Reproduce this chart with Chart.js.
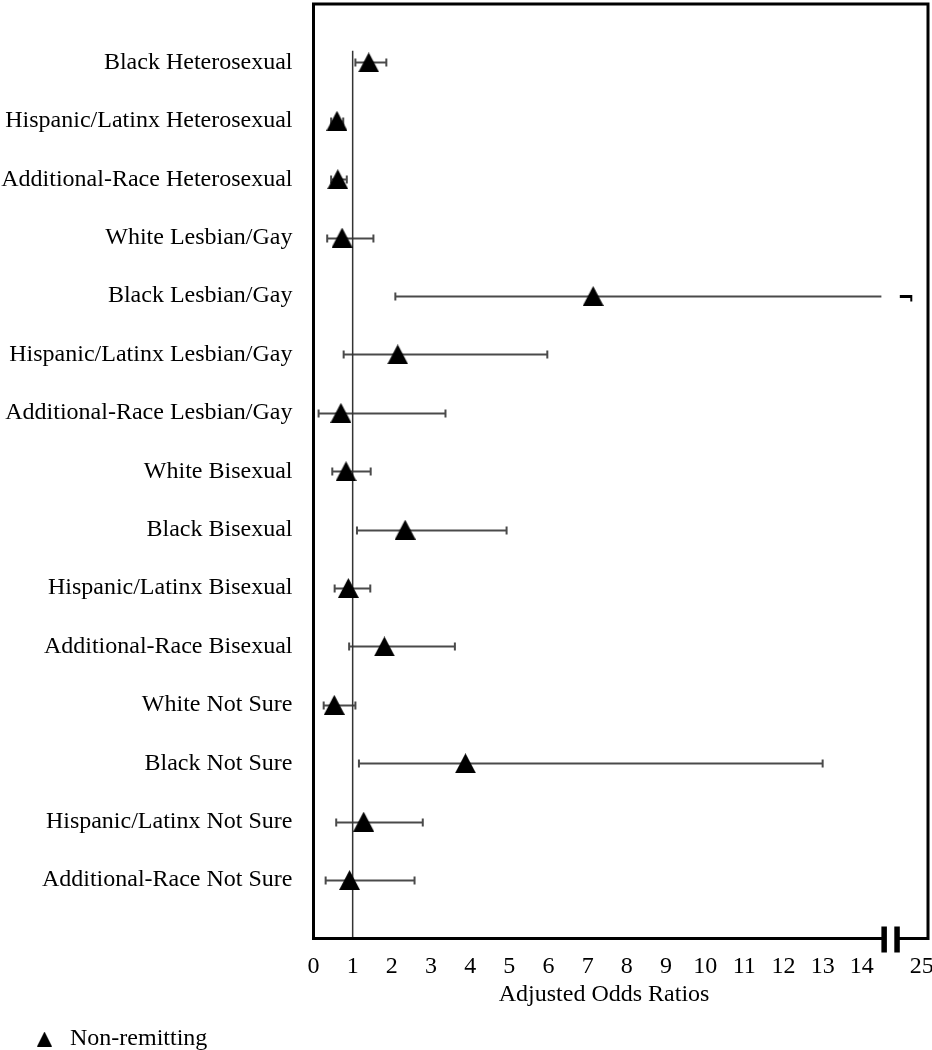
<!DOCTYPE html>
<html>
<head>
<meta charset="utf-8">
<script src="https://cdn.jsdelivr.net/npm/chart.js@4.4.1/dist/chart.umd.min.js"></script>
<style>
html,body{margin:0;padding:0;background:#fff;overflow:hidden;}
#wrap{width:932px;height:1050px;position:relative;}
</style>
</head>
<body>
<div id="wrap"><canvas id="c" width="932" height="1050"></canvas></div>
<script>
// ---------------- data ----------------
const categories = [
  'Black Heterosexual',
  'Hispanic/Latinx Heterosexual',
  'Additional-Race Heterosexual',
  'White Lesbian/Gay',
  'Black Lesbian/Gay',
  'Hispanic/Latinx Lesbian/Gay',
  'Additional-Race Lesbian/Gay',
  'White Bisexual',
  'Black Bisexual',
  'Hispanic/Latinx Bisexual',
  'Additional-Race Bisexual',
  'White Not Sure',
  'Black Not Sure',
  'Hispanic/Latinx Not Sure',
  'Additional-Race Not Sure'
];
const oddsRatios = [1.41, 0.60, 0.62, 0.73, 7.14, 2.15, 0.70, 0.83, 2.34, 0.89, 1.81, 0.53, 3.88, 1.28, 0.92];
const ciLower    = [1.07, 0.45, 0.45, 0.35, 2.09, 0.77, 0.13, 0.48, 1.11, 0.54, 0.91, 0.26, 1.16, 0.58, 0.31];
const ciUpper    = [1.86, 0.76, 0.85, 1.53, 20.0, 5.97, 3.37, 1.46, 4.93, 1.45, 3.61, 1.07, 13.0, 2.79, 2.58];
const xTickValues = [0, 1, 2, 3, 4, 5, 6, 7, 8, 9, 10, 11, 12, 13, 14, 25];
const seriesName = 'Non-remitting';
const xAxisTitle = 'Adjusted Odds Ratios';
const referenceValue = 1;

// ---------------- axis break mapping ----------------
const BREAK_FROM = 14.5;     // data value where the axis is broken
const BREAK_RESUME = 14.97;  // axis position where the scale resumes
const TOP_POS = 15.53;       // axis position of the last tick
const TOP_VAL = 25;          // value of the last tick
function toPos(v) {
  if (v <= BREAK_FROM) return v;
  return BREAK_RESUME + (v - BREAK_FROM) * (TOP_POS - BREAK_RESUME) / (TOP_VAL - BREAK_FROM);
}
const N = categories.length;
function rowY(i) { return N - i; }

const FONT = "'Liberation Serif','Times New Roman',serif";
Chart.defaults.font.family = FONT;
Chart.defaults.font.size = 24;
Chart.defaults.color = '#000';

function makeTriangle(w, h) {
  const c = document.createElement('canvas');
  c.width = w; c.height = h;
  const g = c.getContext('2d');
  g.fillStyle = '#000';
  g.beginPath();
  g.moveTo(w / 2, 0);
  g.lineTo(w, h);
  g.lineTo(0, h);
  g.closePath();
  g.fill();
  return c;
}
const triBig = makeTriangle(21, 20);
const triSmall = makeTriangle(15, 15);

const whiskerPlugin = {
  id: 'whiskers',
  beforeDatasetsDraw(chart) {
    const { ctx, scales: { x, y } } = chart;
    ctx.save();
    ctx.lineCap = 'butt';
    const cap = 4;
    categories.forEach((c, i) => {
      const py = Math.round(y.getPixelForValue(rowY(i))) + 0.5;
      const xl = x.getPixelForValue(toPos(ciLower[i]));
      ctx.strokeStyle = '#4a4a4a';
      ctx.lineWidth = 2;
      if (ciUpper[i] > BREAK_FROM) {
        const xb = x.getPixelForValue(BREAK_FROM);
        const xr = x.getPixelForValue(BREAK_RESUME);
        const xu = x.getPixelForValue(toPos(ciUpper[i]));
        ctx.beginPath();
        ctx.moveTo(xl, py); ctx.lineTo(xb, py);
        ctx.moveTo(xl, py - cap); ctx.lineTo(xl, py + cap);
        ctx.stroke();
        ctx.strokeStyle = '#000';
        ctx.lineWidth = 3;
        ctx.beginPath();
        ctx.moveTo(xr, py); ctx.lineTo(xu, py);
        ctx.stroke();
        ctx.lineWidth = 2;
        ctx.beginPath();
        ctx.moveTo(xu, py - 1.5); ctx.lineTo(xu, py + 5);
        ctx.stroke();
      } else {
        const xu = x.getPixelForValue(toPos(ciUpper[i]));
        ctx.beginPath();
        ctx.moveTo(xl, py); ctx.lineTo(xu, py);
        ctx.moveTo(xl, py - cap); ctx.lineTo(xl, py + cap);
        ctx.moveTo(xu, py - cap); ctx.lineTo(xu, py + cap);
        ctx.stroke();
      }
    });
    ctx.restore();
  }
};

const framePlugin = {
  id: 'frame',
  afterLayout(chart) {
    const lg = chart.legend;
    if (lg) {
      lg.left += 29; lg.right += 29;
      lg.top += 11; lg.bottom += 11;
    }
  },
  afterDatasetsDraw(chart) {
    const { ctx, chartArea: { left, right, top, bottom }, scales: { x } } = chart;
    ctx.save();
    ctx.strokeStyle = '#000';
    ctx.fillStyle = '#000';
    ctx.lineWidth = 3;
    ctx.lineCap = 'square';
    const xb1 = x.getPixelForValue(BREAK_FROM);
    const xb2 = x.getPixelForValue(BREAK_RESUME);
    ctx.beginPath();
    ctx.moveTo(left, bottom); ctx.lineTo(left, top); ctx.lineTo(right, top); ctx.lineTo(right, bottom);
    ctx.moveTo(left, bottom); ctx.lineTo(xb1, bottom);
    ctx.moveTo(xb2, bottom); ctx.lineTo(right, bottom);
    ctx.stroke();
    ctx.fillRect(xb1, bottom - 12, 5.5, 26);
    ctx.fillRect(xb2 - 5.5, bottom - 12, 5.5, 26);
    ctx.restore();
  },
  afterDraw(chart) {
    const { ctx, chartArea, scales: { x } } = chart;
    ctx.save();
    ctx.fillStyle = '#000';
    ctx.font = '24px ' + FONT;
    ctx.textAlign = 'center';
    ctx.textBaseline = 'middle';
    ctx.fillText(xAxisTitle, x.getPixelForValue(7.42), chartArea.bottom + 56.5);
    ctx.restore();
  }
};

new Chart(document.getElementById('c'), {
  type: 'scatter',
  data: {
    datasets: [
      {
        label: seriesName,
        data: oddsRatios.map((v, i) => ({ x: toPos(v), y: rowY(i) })),
        pointStyle: triBig,
        pointRadius: 10,
        backgroundColor: '#000',
        borderColor: '#000',
        order: 0
      },
      {
        label: 'reference',
        data: [{ x: toPos(referenceValue), y: 0 }, { x: toPos(referenceValue), y: 15.2 }],
        showLine: true,
        pointRadius: 0,
        borderColor: '#333',
        borderWidth: 1.5,
        order: 1
      }
    ]
  },
  options: {
    responsive: false,
    animation: false,
    events: [],
    layout: { autoPadding: false, padding: { left: 0, right: 4, top: 4, bottom: 0 } },
    scales: {
      x: {
        type: 'linear',
        min: 0,
        max: 15.69,
        grid: { display: false, drawTicks: false },
        border: { display: false },
        afterBuildTicks: s => { s.ticks = xTickValues.map(v => ({ value: toPos(v) })); },
        ticks: {
          padding: 13.5,
          autoSkip: false,
          maxRotation: 0,
          font: { size: 24, family: FONT },
          color: '#000',
          callback: (val, idx) => String(xTickValues[idx])
        },
        afterFit: s => { s.height = 75.5; s.paddingLeft = 0; s.paddingRight = 0; }
      },
      y: {
        type: 'linear',
        min: 0,
        max: 16,
        grid: { display: false, drawTicks: false },
        border: { display: false },
        afterBuildTicks: s => { s.ticks = categories.map((c, i) => ({ value: rowY(i) })); },
        ticks: {
          padding: 21,
          autoSkip: false,
          font: { size: 24, family: FONT },
          color: '#000',
          callback: (val) => categories[N - val]
        },
        afterFit: s => { s.width = 313.5; s.paddingTop = 0; s.paddingBottom = 0; }
      }
    },
    plugins: {
      tooltip: { enabled: false },
      legend: {
        position: 'bottom',
        align: 'start',
        labels: {
          usePointStyle: true,
          pointStyleWidth: 27,
          padding: 2,
          color: '#000',
          font: { size: 24, family: FONT },
          generateLabels: () => [{
            text: seriesName,
            pointStyle: triSmall,
            fillStyle: '#000',
            strokeStyle: '#000',
            lineWidth: 0,
            hidden: false,
            datasetIndex: 0
          }]
        }
      }
    }
  },
  plugins: [whiskerPlugin, framePlugin]
});
</script>
</body>
</html>
